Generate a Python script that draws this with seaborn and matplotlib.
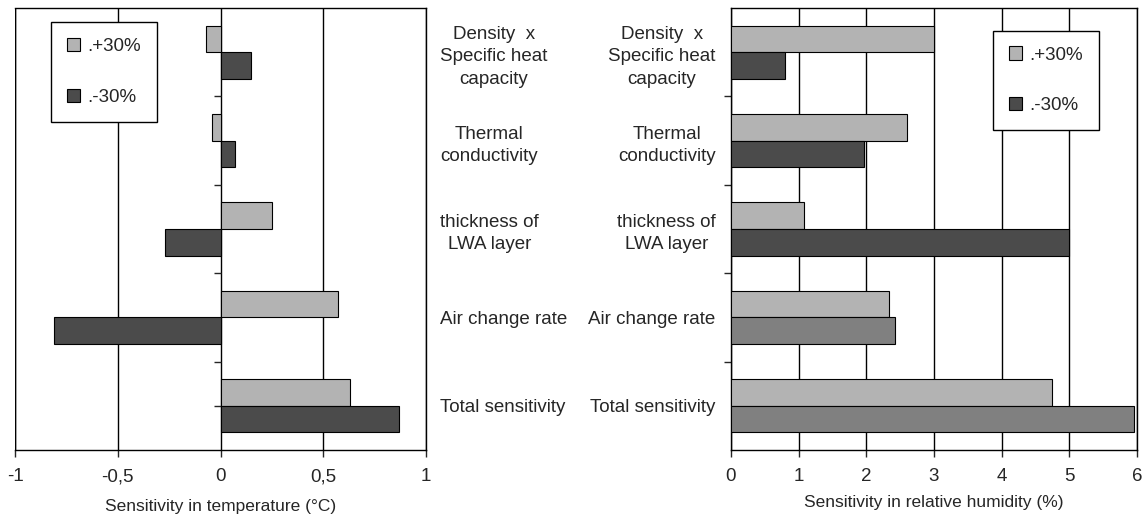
import numpy as np
import pandas as pd
import matplotlib
matplotlib.use("Agg")
import matplotlib.pyplot as plt
from matplotlib.patches import Patch
from matplotlib.ticker import FixedLocator
import seaborn as sns

# 数据
parameters = ["Density  x\nSpecific heat\ncapacity", "Thermal\nconductivity",
              "thickness of\nLWA layer", "Air change rate", "Total sensitivity"]
variations = [".+30%", ".-30%"]
temp_plus = [-0.07, -0.04, 0.25, 0.57, 0.63]
temp_minus = [0.15, 0.07, -0.27, -0.81, 0.87]
rh_plus = [3.0, 2.6, 1.08, 2.33, 4.75]
rh_minus = [0.8, 1.97, 5.0, 2.42, 5.95]
temp_ticks = [-1, -0.5, 0, 0.5, 1]
temp_tick_labels = ["-1", "-0,5", "0", "0,5", "1"]
rh_ticks = [0, 1, 2, 3, 4, 5, 6]
rh_tick_labels = ["0", "1", "2", "3", "4", "5", "6"]

light = "#b3b3b3"
dark = "#4b4b4b"
medium = "#808080"


def long_table(plus, minus):
    rows = []
    for p, a, b in zip(parameters, plus, minus):
        rows.append({"parameter": p, "variation": variations[0], "value": a})
        rows.append({"parameter": p, "variation": variations[1], "value": b})
    return pd.DataFrame(rows)


sns.set_style("white")
plt.rcParams["font.family"] = ["Liberation Sans", "DejaVu Sans"]
plt.rcParams["axes.edgecolor"] = "black"
plt.rcParams["axes.linewidth"] = 1.0

fig = plt.figure(figsize=(11.48, 5.2), dpi=100)
ax1 = fig.add_axes([15 / 1148, 70 / 520, 411 / 1148, 442 / 520])
ax2 = fig.add_axes([731 / 1148, 70 / 520, 406 / 1148, 442 / 520])


def draw(ax, df, minor_ticks):
    sns.barplot(data=df, y="parameter", x="value", hue="variation",
                palette=[light, dark], width=0.6, edgecolor="black",
                linewidth=0.8, saturation=1, legend=False, ax=ax, zorder=3)
    ax.set_ylim(4.5, -0.5)
    ax.set_ylabel("")
    ax.grid(axis="x", color="black", linewidth=1.0, zorder=1)
    ax.grid(axis="y", visible=False)
    for s in ax.spines.values():
        s.set_visible(True)
        s.set_color("black")
    # 类别分隔刻度
    ax.yaxis.remove_overlapping_locs = False
    ax.yaxis.set_minor_locator(FixedLocator(minor_ticks))
    ax.tick_params(axis="y", which="major", length=0)
    ax.tick_params(axis="y", which="minor", length=5, width=1, direction="out", left=True)
    ax.tick_params(axis="x", length=5, width=1, direction="out", bottom=True,
                   labelsize=13.5, pad=8)


def add_legend(ax, anchor):
    handles = [Patch(facecolor=light, edgecolor="black", linewidth=0.8),
               Patch(facecolor=dark, edgecolor="black", linewidth=0.8)]
    leg = ax.legend(handles, variations, loc="upper left", bbox_to_anchor=anchor,
                    borderaxespad=0, frameon=True, fancybox=False, framealpha=1,
                    edgecolor="black", fontsize=13.5, labelspacing=1.8,
                    borderpad=0.85, handlelength=0.7, handleheight=0.7,
                    handletextpad=0.4)
    leg.get_frame().set_linewidth(1.0)
    leg.set_zorder(5)


# 左图: 温度
draw(ax1, long_table(temp_plus, temp_minus), [0.5, 1.5, 2.5, 3.5, 4.0])
ax1.set_xlim(-1, 1)
ax1.set_xticks(temp_ticks)
ax1.set_xticklabels(temp_tick_labels)
ax1.spines["left"].set_position(("data", 0))
ax1.spines["left"].set_linewidth(0)
ax1.axvline(-1, color="black", linewidth=1.0, zorder=4)
ax1.tick_params(axis="y", which="major", labelleft=False, labelright=True,
                labelsize=13.5, pad=10)
for t in ax1.get_yticklabels():
    t.set_multialignment("center")
    t.set_linespacing(1.4)
ax1.set_xlabel("Sensitivity in temperature (°C)", fontsize=12.5, labelpad=10)
add_legend(ax1, (0.088, 0.969))

# 右图: 相对湿度
draw(ax2, long_table(rh_plus, rh_minus), [0.5, 1.5, 2.5, 3.5])
for i in (3, 4):
    ax2.containers[1][i].set_facecolor(medium)
ax2.set_xlim(0, 6)
ax2.set_xticks(rh_ticks)
ax2.set_xticklabels(rh_tick_labels)
ax2.tick_params(axis="y", which="major", labelleft=True, labelsize=13.5, pad=11)
for t in ax2.get_yticklabels():
    t.set_multialignment("center")
    t.set_linespacing(1.4)
ax2.set_xlabel("Sensitivity in relative humidity (%)", fontsize=12.5, labelpad=7)
add_legend(ax2, (0.645, 0.949))

fig.savefig("out.png", dpi=100)
